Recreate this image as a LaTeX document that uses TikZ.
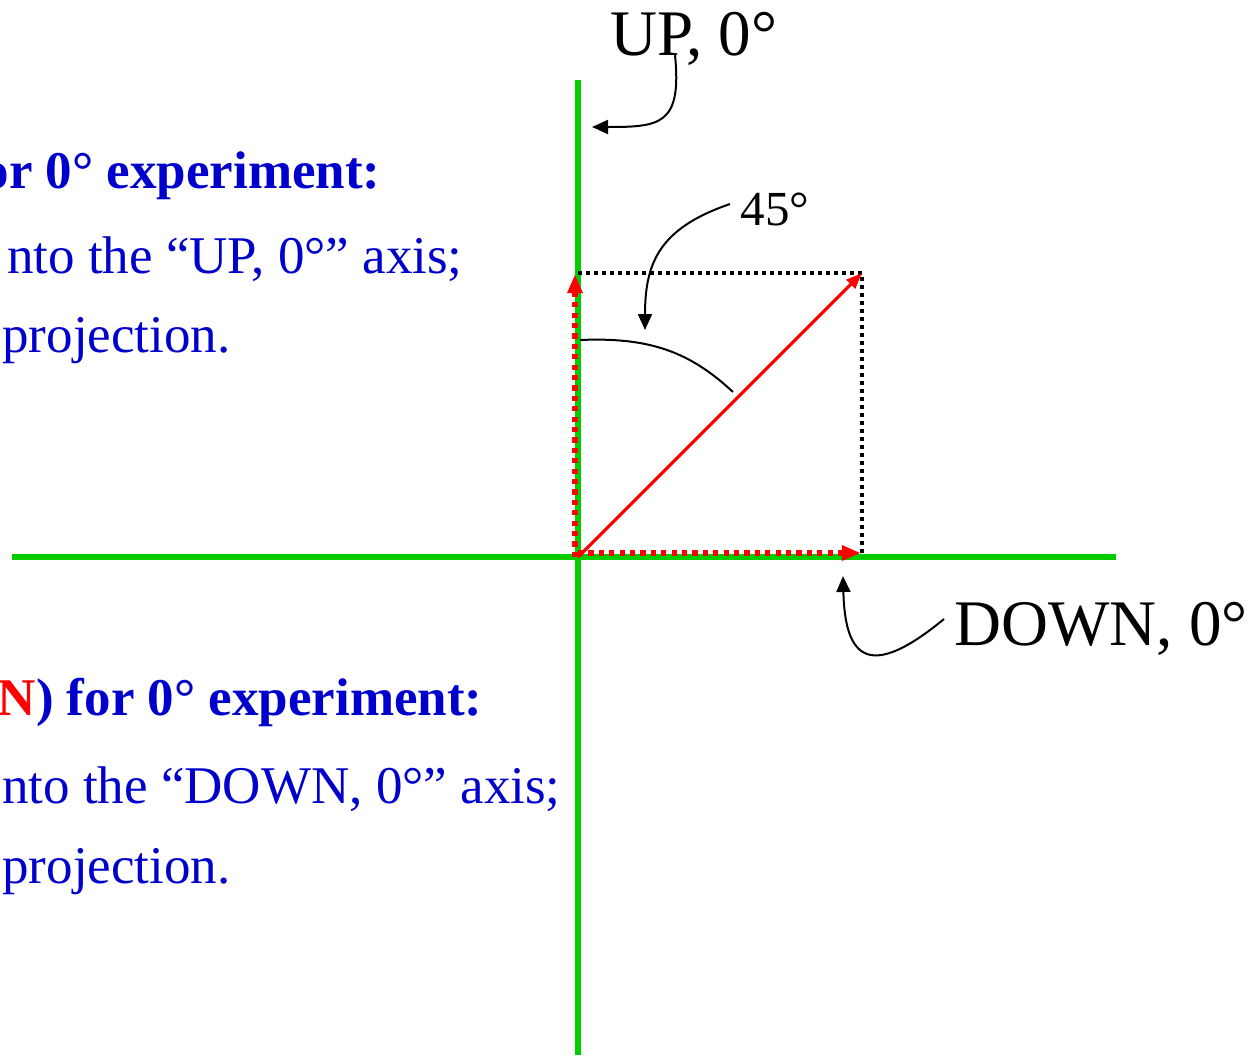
\documentclass[tikz,border=0pt]{standalone}
\usepackage{fontspec}
\setmainfont{Liberation Serif}
\usepackage{xcolor}
\usetikzlibrary{arrows.meta, positioning}

\definecolor{axisgreen}{RGB}{0,204,0}
\definecolor{textblue}{RGB}{0,0,204}
\definecolor{vecred}{RGB}{255,0,0}

\begin{document}
\begin{tikzpicture}[
    x=0.5pt, y=-0.5pt,
    axis/.style={draw=axisgreen, line width=3pt},
    vec/.style={draw=vecred, line width=1.6pt,
                -{Triangle[length=8pt, width=6pt]}},
    proj/.style={draw=vecred, line width=2.8pt, dash pattern=on 2.6pt off 2.6pt,
                 -{Triangle[length=9pt, width=8pt, line width=0pt]}},
    guide/.style={draw=black, line width=2pt, dash pattern=on 2pt off 2pt},
    pointer/.style={draw=black, line width=1pt,
                    -{Triangle[length=8pt, width=7pt]}},
    axislabel/.style={font=\fontsize{32.5}{38}\selectfont, inner sep=0pt},
    anglelabel/.style={font=\fontsize{24.5}{29}\selectfont, inner sep=0pt},
    note/.style={font=\fontsize{26.5}{31}\selectfont, text=textblue,
                 inner sep=0pt, anchor=base east},
]
\useasboundingbox (0,0) rectangle (1253,1055);

% axes
\coordinate (O)     at (578,557);
\coordinate (yTop)  at (578,80);
\coordinate (yBot)  at (578,1055);
\coordinate (xLeft) at (12,557);
\coordinate (xRight) at (1116,557);
\draw[axis] (yTop) -- (yBot);
\draw[axis] (xLeft) -- (xRight);

% vector and its projections
\coordinate (tip)   at (862,273);
\coordinate (tipUp) at (578,273);
\coordinate (tipDn) at (862,557);
\draw[guide] (tipUp) -- (tip) -- (tipDn);
\draw[vec] (O) -- (tip);
\draw[proj] ([xshift=-1.5pt]O) -- ([xshift=-1.5pt,yshift=-1pt]tipUp);
\draw[proj] ([yshift=2pt]O) -- ([xshift=-1pt,yshift=2pt]tipDn);

% angle
\coordinate (arcA) at (580,340);
\coordinate (arcB) at (733,392);
\draw[line width=1pt] (arcA) .. controls (650,337) and (690,352) .. (arcB);

% labels
\node[axislabel, anchor=base] (upLbl)   at (694,55)  {UP, 0°};
\node[axislabel, anchor=base] (downLbl) at (1101,645) {DOWN, 0°};
\node[anglelabel, anchor=base] (angLbl) at (775,225) {45°};

\coordinate (upFrom)   at (675,55);
\coordinate (upTo)     at (592,127);
\coordinate (downFrom) at (944,619);
\coordinate (downTo)   at (843,576);
\coordinate (angFrom)  at (730,204);
\coordinate (angTo)    at (645,330);
\draw[pointer] (upFrom) .. controls (682,125) and (660,127) .. (upTo);
\draw[pointer] (downFrom) .. controls (870,680) and (845,660) .. (downTo);
\draw[pointer] (angFrom) .. controls (660,228) and (645,262) .. (angTo);

% notes
\node[note] (upHead) at (381,188) {\bfseries or 0° experiment:};
\node[note] (upLine) at (463,273) {nto the “UP, 0°” axis;};
\node[note] (upProj) at (231,352) {projection.};
\node[note] (dnHead) at (483,715) {\bfseries\textcolor{vecred}{N}) for 0° experiment:};
\node[note] (dnLine) at (561,803) {nto the “DOWN, 0°” axis;};
\node[note] (dnProj) at (231,883) {projection.};
\end{tikzpicture}
\end{document}
